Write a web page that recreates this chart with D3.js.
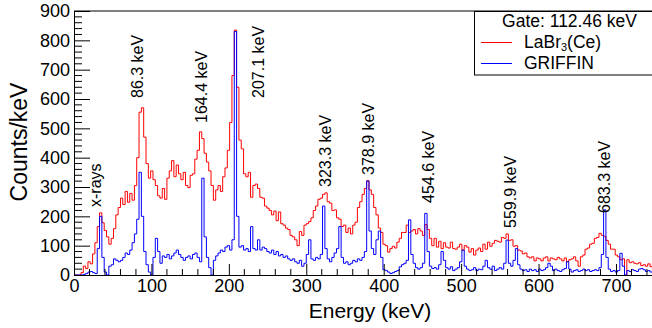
<!DOCTYPE html>
<html>
<head>
<meta charset="utf-8">
<script src="https://cdn.jsdelivr.net/npm/d3@7"></script>
<style>
  body { margin: 0; background: #fff; }
  text { font-family: "Liberation Sans", Arial, sans-serif; }
</style>
</head>
<body>
<div id="chart"></div>
<script>
// histogram binning: 3 keV per bin, starting at 0 keV
const binWidth = 3;

// LaBr3(Ce) counts/keV per bin
const labrCounts = [
  0, 0, 0, 8, 30, 22, 45, 38, 72, 110,
  165, 212, 178, 152, 130, 105, 125, 158, 205, 230,
  262, 240, 285, 248, 278, 255, 305, 400, 555, 570,
  470, 380, 330, 355, 325, 305, 270, 262, 295, 258,
  330, 355, 390, 335, 375, 345, 325, 350, 305, 298,
  340, 345, 395, 425, 488, 465, 415, 385, 355, 305,
  255, 290, 305, 285, 335, 365, 425, 520, 680, 835,
  640, 460, 430, 345, 335, 350, 265, 305, 310, 295,
  265, 262, 235, 228, 220, 205, 218, 185, 215, 175,
  170, 160, 155, 135, 130, 120, 100, 148, 135, 170,
  175, 182, 195, 220, 235, 258, 262, 275, 280, 250,
  245, 220, 222, 195, 190, 165, 170, 145, 160, 140,
  170, 180, 230, 250, 275, 295, 322, 290, 275, 230,
  205, 160, 145, 105, 100, 78, 90, 98, 92, 112,
  125, 145, 145, 170, 145, 150, 155, 140, 158, 150,
  135, 172, 155, 125, 100, 125, 95, 115, 90, 110,
  95, 92, 112, 90, 88, 95, 105, 85, 100, 95,
  78, 90, 68, 85, 92, 80, 105, 88, 112, 98,
  108, 118, 115, 112, 128, 125, 140, 118, 120, 98,
  100, 85, 82, 72, 75, 62, 58, 62, 48, 58,
  55, 48, 58, 62, 48, 58, 55, 52, 60, 55,
  48, 58, 45, 52, 55, 62, 48, 30, 62, 68,
  88, 92, 105, 108, 125, 128, 142, 135, 132, 118,
  105, 88, 88, 68, 62, 52, 55, 0, 52, 42,
  45, 40, 38, 42, 32, 35, 30, 38, 28, 40
];

// GRIFFIN counts/keV per bin
const griffinCounts = [
  0, 0, 0, 0, 2, 5, 10, 12, 8, 5,
  90, 200, 60, 10, 0, 30, 35, 55, 50, 45,
  50, 60, 75, 70, 85, 110, 140, 190, 350, 200,
  80, 35, 10, 0, 60, 125, 80, 40, 65, 60,
  70, 55, 65, 75, 85, 70, 60, 50, 60, 65,
  55, 70, 75, 60, 45, 330, 130, 60, 25, 0,
  50, 65, 75, 85, 80, 95, 100, 85, 120, 830,
  200, 95, 100, 85, 90, 80, 165, 90, 85, 120,
  85, 95, 90, 80, 75, 85, 70, 80, 65, 70,
  60, 65, 55, 50, 55, 45, 40, 50, 30, 40,
  70, 120, 55, 50, 60, 55, 70, 235, 90, 55,
  45, 60, 75, 90, 165, 60, 40, 45, 35, 40,
  50, 45, 55, 50, 60, 80, 320, 150, 90, 70,
  120, 150, 60, 18, 15, 10, 5, 8, 12, 15,
  28, 35, 40, 50, 188, 70, 40, 25, 20, 25,
  40, 210, 80, 30, 22, 25, 20, 35, 80, 50,
  25, 20, 28, 15, 20, 25, 45, 85, 30, 20,
  15, 18, 25, 15, 20, 18, 30, 50, 25, 20,
  30, 15, 20, 25, 20, 40, 119, 40, 30, 50,
  90, 35, 20, 15, 18, 12, 20, 15, 18, 12,
  20, 15, 18, 25, 40, 30, 15, 20, 15, 12,
  18, 22, 45, 20, 10, 15, 18, 12, 15, 20,
  15, 18, 12, 15, 18, 15, 25, 70, 222, 60,
  20, 12, 15, 10, 15, 74, 30, 0, 15, 12,
  18, 15, 12, 20, 22, 18, 12, 15, 10, 15
];

const peakLabels = [
  { e: 33, text: "x-rays", start: 207 },
  { e: 86.3, text: "86.3 keV", start: 98 },
  { e: 164.4, text: "164.4 keV", start: 123 },
  { e: 207.1, text: "207.1 keV", start: 98 },
  { e: 323.3, text: "323.3 keV", start: 187 },
  { e: 378.9, text: "378.9 keV", start: 175 },
  { e: 454.6, text: "454.6 keV", start: 203 },
  { e: 559.9, text: "559.9 keV", start: 228 },
  { e: 683.3, text: "683.3 keV", start: 213 }
];
// pixel x of each label baseline (rotated text)
const peakLabelX = [101, 143, 207, 264, 331, 374, 434, 516, 610];

const W = 652, H = 328;
const m = { left: 74, right: 654.7, top: 11, bottom: 275 };

const svg = d3.select("#chart").append("svg")
  .attr("width", W).attr("height", H);

svg.append("rect").attr("width", W).attr("height", H).attr("fill", "#fff");

const x = d3.scaleLinear().domain([0, 750]).range([m.left, m.right]);
const y = d3.scaleLinear().domain([0, 900]).range([m.bottom, m.top]);

svg.append("defs").append("clipPath").attr("id", "plotclip")
  .append("rect").attr("x", m.left).attr("y", m.top)
  .attr("width", m.right - m.left).attr("height", m.bottom - m.top);

// histograms as step lines
function stepPoints(counts) {
  const pts = counts.map((v, i) => [i * binWidth, v]);
  pts.push([counts.length * binWidth, counts[counts.length - 1]]);
  return pts;
}
const histLine = d3.line()
  .x(d => x(d[0]))
  .y(d => y(d[1]))
  .curve(d3.curveStepAfter);

const plot = svg.append("g").attr("clip-path", "url(#plotclip)");
plot.append("path")
  .attr("d", histLine(stepPoints(labrCounts)))
  .attr("fill", "none").attr("stroke", "#ff0000").attr("stroke-width", 1);
plot.append("path")
  .attr("d", histLine(stepPoints(griffinCounts)))
  .attr("fill", "none").attr("stroke", "#0000ff").attr("stroke-width", 1);

// frame top
svg.append("line")
  .attr("x1", m.left).attr("x2", W).attr("y1", m.top).attr("y2", m.top)
  .attr("stroke", "#555").attr("stroke-width", 1.5);

// Y axis (ticks inside, ROOT style)
const yAxis = svg.append("g").attr("transform", `translate(${m.left},0)`);
yAxis.call(d3.axisLeft(y).tickValues(d3.range(0, 901, 100))
  .tickSize(-16).tickPadding(4).tickFormat(d3.format("d")));
yAxis.selectAll(".tick line").attr("stroke", "#000");
yAxis.selectAll(".tick text").attr("font-size", 18)
  .attr("font-family", "Liberation Sans, Arial, sans-serif").attr("fill", "#000");
yAxis.select(".domain").attr("stroke", "#000");
yAxis.selectAll(".minor").data(d3.range(0, 901, 20).filter(d => d % 100 !== 0))
  .enter().append("line").attr("class", "minor")
  .attr("x1", 0).attr("x2", 8).attr("y1", d => y(d)).attr("y2", d => y(d))
  .attr("stroke", "#000");

// X axis
const xAxis = svg.append("g").attr("transform", `translate(0,${m.bottom})`);
xAxis.call(d3.axisBottom(x).tickValues(d3.range(0, 701, 100))
  .tickSize(-11).tickPadding(4).tickFormat(d3.format("d")));
xAxis.selectAll(".tick line").attr("stroke", "#000");
xAxis.selectAll(".tick text").attr("font-size", 18)
  .attr("font-family", "Liberation Sans, Arial, sans-serif").attr("fill", "#000");
xAxis.select(".domain").attr("stroke", "#000");
xAxis.selectAll(".minor").data(d3.range(0, 751, 20).filter(d => d % 100 !== 0))
  .enter().append("line").attr("class", "minor")
  .attr("x1", d => x(d)).attr("x2", d => x(d)).attr("y1", 0).attr("y2", -6)
  .attr("stroke", "#000");

// axis titles
svg.append("text")
  .attr("x", 370).attr("y", 318)
  .attr("text-anchor", "middle").attr("font-size", 21)
  .text("Energy (keV)");
svg.append("text")
  .attr("transform", "translate(27,142) rotate(-90)")
  .attr("text-anchor", "middle").attr("font-size", 23)
  .text("Counts/keV");

// peak labels
svg.selectAll(".peak").data(peakLabels).enter().append("text")
  .attr("class", "peak")
  .attr("transform", (d, i) => `translate(${peakLabelX[i]},${d.start}) rotate(-90)`)
  .attr("font-size", 16)
  .text(d => d.text);

// legend
const leg = svg.append("g");
leg.append("rect")
  .attr("x", 474.5).attr("y", 11.5).attr("width", 200).attr("height", 63.5)
  .attr("fill", "#fff").attr("stroke", "#000");
leg.append("text").attr("x", 569.5).attr("y", 26.5)
  .attr("text-anchor", "middle").attr("font-size", 17.5)
  .text("Gate: 112.46 keV");
leg.append("line").attr("x1", 481).attr("x2", 512).attr("y1", 42.5).attr("y2", 42.5)
  .attr("stroke", "#ff0000");
leg.append("line").attr("x1", 481).attr("x2", 512).attr("y1", 63.5).attr("y2", 63.5)
  .attr("stroke", "#0000ff");
const lab = leg.append("text").attr("x", 524).attr("y", 48).attr("font-size", 17.5);
lab.append("tspan").text("LaBr");
lab.append("tspan").attr("font-size", 11).attr("dy", 3).text("3");
lab.append("tspan").attr("dy", -3).text("(Ce)");
leg.append("text").attr("x", 524).attr("y", 69).attr("font-size", 17.5)
  .text("GRIFFIN");
</script>
</body>
</html>
